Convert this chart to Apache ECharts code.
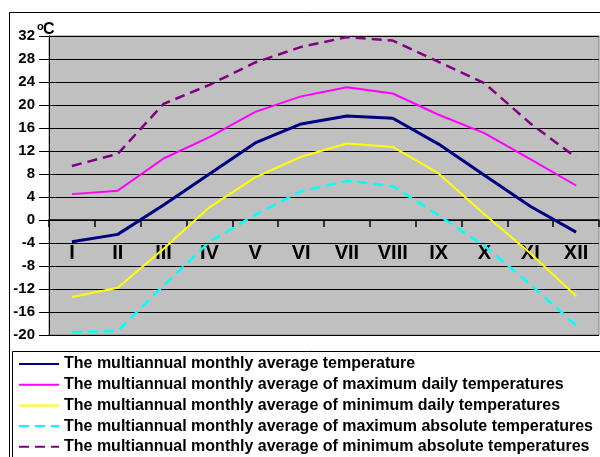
<!DOCTYPE html>
<html>
<head>
<meta charset="utf-8">
<script src="https://cdn.jsdelivr.net/npm/echarts@6/dist/echarts.min.js"></script>
<style>
  html, body { margin: 0; padding: 0; background: #fff; }
  #chart { width: 600px; height: 457px; }
</style>
</head>
<body>
<div id="chart"></div>
<script>
  // months (roman numerals)
  const months = ['I', 'II', 'III', 'IV', 'V', 'VI', 'VII', 'VIII', 'IX', 'X', 'XI', 'XII']
  const yTicks = [-20, 32, 4]  // min, max, step

  const avgTemp = [-3.8, -2.5, 2.6, 8.0, 13.4, 16.7, 18.1, 17.7, 13.2, 7.8, 2.4, -2.1]
  const avgMaxDaily = [4.5, 5.1, 10.7, 14.4, 18.8, 21.5, 23.1, 22.0, 18.3, 15.1, 10.6, 6.0]
  const avgMinDaily = [-13.4, -11.8, -5.0, 2.2, 7.4, 11.0, 13.3, 12.7, 8.1, 1.0, -5.8, -13.2]
  const avgMaxAbs = [-19.5, -19.3, -11.4, -3.8, 0.9, 5.0, 6.8, 5.9, 0.8, -4.5, -11.2, -18.3]
  const avgMinAbs = [9.4, 11.5, 20.2, 23.5, 27.4, 30.1, 31.8, 31.2, 27.5, 23.8, 16.8, 10.9]

  const names = [
    'The multiannual monthly average temperature',
    'The multiannual monthly average of maximum daily temperatures',
    'The multiannual monthly average of minimum daily temperatures',
    'The multiannual monthly average of maximum absolute temperatures',
    'The multiannual monthly average of minimum absolute temperatures'
  ]

  const chart = echarts.init(document.getElementById('chart'))

  const mkLine = (name, data, color, width, dashed) => ({
    name: name,
    type: 'line',
    data: data,
    symbol: 'none',
    smooth: false,
    z: 3,
    lineStyle: {
      color: color,
      width: width,
      type: dashed ? [10, 6] : 'solid'
    },
    itemStyle: { color: color }
  })

  // grid: 49..599 x 36..335, zero line at y=220
  const zeroOffset = -(335 - 220)

  const option = {
    animation: false,
    textStyle: { fontFamily: 'Arial, "Liberation Sans", sans-serif' },
    grid: {
      left: 49,
      right: 1,
      top: 36,
      bottom: 122,
      show: true,
      backgroundColor: '#c0c0c0',
      borderColor: '#808080',
      borderWidth: 1
    },
    xAxis: {
      type: 'category',
      data: months,
      boundaryGap: true,
      offset: zeroOffset,
      axisLine: { onZero: false, lineStyle: { color: '#000', width: 1.5 } },
      axisTick: { show: true, length: 7, lineStyle: { color: '#000', width: 1.5 } },
      axisLabel: {
        margin: 23,
        color: '#000',
        fontWeight: 'bold',
        fontSize: 20,
        interval: 0
      },
      splitLine: { show: false }
    },
    yAxis: {
      type: 'value',
      min: yTicks[0],
      max: yTicks[1],
      interval: yTicks[2],
      axisLine: { show: true, lineStyle: { color: '#000', width: 1 } },
      axisTick: { show: true, length: 10, lineStyle: { color: '#000' } },
      axisLabel: {
        margin: 14,
        color: '#000',
        fontWeight: 'bold',
        fontSize: 15
      },
      splitLine: { show: true, lineStyle: { color: '#000', width: 1 } }
    },
    legend: {
      orient: 'vertical',
      left: 18,
      top: 356,
      padding: 0,
      height: 200,
      itemWidth: 40,
      itemHeight: 14,
      itemGap: 4.7,
      itemStyle: { opacity: 0 },
      textStyle: {
        color: '#000',
        fontWeight: 'bold',
        fontSize: 16
      },
      data: names
    },
    graphic: [
      {
        type: 'rect',
        shape: { x: 9.5, y: 12.5, width: 600, height: 460 },
        style: { fill: 'none', stroke: '#000', lineWidth: 1 },
        silent: true
      },
      {
        type: 'rect',
        shape: { x: 12.5, y: 351.5, width: 600, height: 120 },
        style: { fill: 'none', stroke: '#000', lineWidth: 1 },
        silent: true
      },
      {
        type: 'text',
        left: 37,
        top: 21,
        style: { text: 'o', fill: '#000', font: 'bold 11px Arial, "Liberation Sans"' }
      },
      {
        type: 'text',
        left: 43,
        top: 22,
        style: { text: 'C', fill: '#000', font: 'bold 16px Arial, "Liberation Sans"' }
      }
    ],
    series: [
      mkLine(names[0], avgTemp, '#000080', 3, false),
      mkLine(names[1], avgMaxDaily, '#ff00ff', 2, false),
      mkLine(names[2], avgMinDaily, '#ffff00', 2, false),
      mkLine(names[3], avgMaxAbs, '#00ffff', 2.5, true),
      mkLine(names[4], avgMinAbs, '#800080', 2.5, true)
    ]
  }

  chart.setOption(option)
  window.addEventListener('resize', () => {
    chart.resize()
  })
</script>
</body>
</html>
